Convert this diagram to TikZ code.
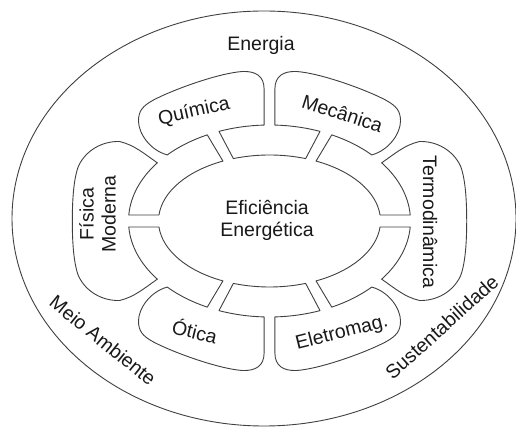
\documentclass[tikz,border=0pt]{standalone}
\usepackage{fontspec}
\setmainfont{Liberation Sans}
\begin{document}
\begin{tikzpicture}[x=1pt,y=1pt,
  line/.style={draw=black!75, line width=0.9pt, line join=round},
  lbl/.style={font=\fontsize{19.5}{22}\selectfont, text=black!90, inner sep=0pt}]
\useasboundingbox (0,0) rectangle (516,428);
\fill[white] (0,0) rectangle (516,428);
% outer ellipse
\draw[line] (264,209.5) ellipse [x radius=252pt, y radius=207.5pt];
% flower shape: drawn as four mirrored quarters
\begin{scope}[shift={(269.5,207)}]
\foreach \sx/\sy in {1/1,-1/1,1/-1,-1/-1}{
 \draw[line, xscale=\sx, yscale=\sy]
  (90:111pt and 66pt) arc[start angle=90, end angle=71, x radius=111pt, y radius=66pt]
  -- (69:141pt and 96pt) arc[start angle=69, end angle=87.8, x radius=141pt, y radius=96pt]
  -- (5.4,132) .. controls (5.4,145) and (14,150) .. (27,149.5)
  .. controls (50,148) and (95,132) .. (116,121)
  .. controls (127,115) and (131,110) .. (131,100)
  .. controls (131,88) and (120,71) .. (43.5:141pt and 96pt)
  arc[start angle=43.5, end angle=63.8, x radius=141pt, y radius=96pt]
  -- (65.2:111pt and 66pt) arc[start angle=65.2, end angle=5.2, x radius=111pt, y radius=66pt]
  -- (3.6:141pt and 96pt) arc[start angle=3.6, end angle=37.3, x radius=141pt, y radius=96pt]
  .. controls (125,67) and (135,76) .. (150,79.5)
  .. controls (168,80) and (184,70) .. (191,55)
  .. controls (196,42) and (197.2,20) .. (197.2,0);
}
\end{scope}
% labels
\node[lbl, anchor=base] (energia) at (261,377.3) {Energia};
\node[lbl, anchor=base] (ef1) at (267,213) {Eficiência};
\node[lbl, anchor=base] (ef2) at (267,191.3) {Energética};
\node[lbl, rotate=13] (quimica) at (194,316.3) {Química};
\node[lbl, rotate=-18] (mecanica) at (342.5,314.7) {Mecânica};
\node[lbl, rotate=-90] (termo) at (430,206) {Termodinâmica};
\node[lbl, rotate=90, align=center] (fisica) at (97.5,214) {Física\\Moderna};
\node[lbl, rotate=-14] (otica) at (195,97.5) {Ótica};
\node[lbl, rotate=14] (eletro) at (342,95) {Eletromag.};
\node[lbl, rotate=-39] (meio) at (103,87.5) {Meio Ambiente};
\node[lbl, rotate=42] (sust) at (441.7,101) {Sustentabilidade};
\end{tikzpicture}
\end{document}
